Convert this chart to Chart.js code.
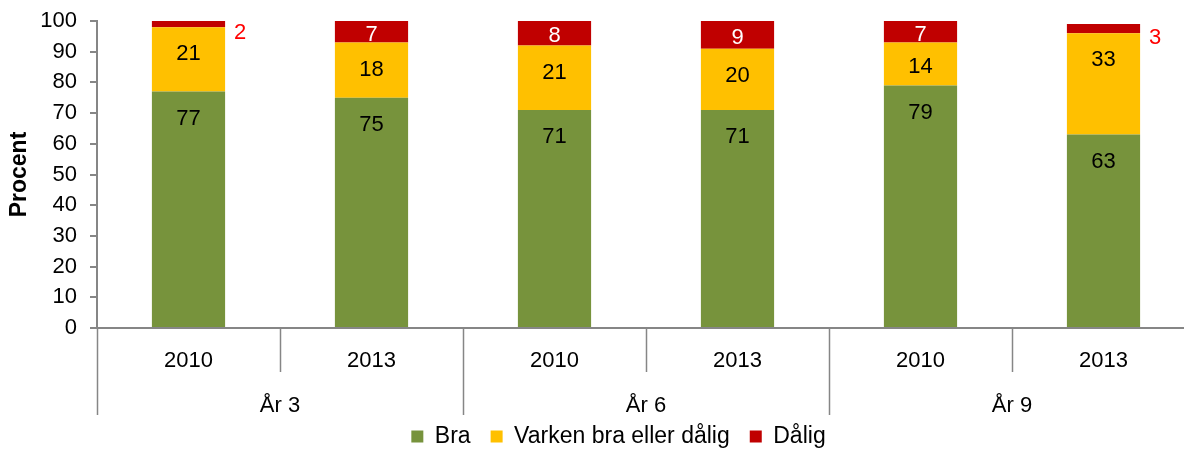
<!DOCTYPE html>
<html>
<head>
<meta charset="utf-8">
<script src="https://cdn.jsdelivr.net/npm/chart.js@4.4.1/dist/chart.umd.min.js"></script>
<style>
  html, body { margin: 0; padding: 0; background: #fff; overflow: hidden; }
  #wrap { width: 1184px; height: 452px; overflow: hidden; }
</style>
</head>
<body>
<div id="wrap"><canvas id="chart" width="1200" height="458"></canvas></div>
<script>
// årskurs / år
const years = ['2010', '2013', '2010', '2013', '2010', '2013'];
const groups = ['År 3', 'År 6', 'År 9'];
const groupSize = 2;

const bra = [77, 75, 71, 71, 79, 63];
const varken = [21, 18, 21, 20, 14, 33];
const dalig = [2, 7, 8, 9, 7, 3];

const FONT = "'Liberation Sans', Arial, sans-serif";
const AXIS_GREY = '#868686';

// siffror i staplarna
const valueLabels = {
    id: 'valueLabels',
    afterDatasetsDraw(chart) {
        const ctx = chart.ctx;
        ctx.save();
        ctx.font = '22px ' + FONT;
        ctx.textBaseline = 'middle';
        chart.data.datasets.forEach((ds, di) => {
            const meta = chart.getDatasetMeta(di);
            meta.data.forEach((bar, i) => {
                const v = ds.data[i];
                const p = bar.getProps(['x', 'y', 'base', 'width'], true);
                const top = Math.min(p.y, p.base);
                const bottom = Math.max(p.y, p.base);
                if (v < 5) {
                    // för litet, skriv bredvid
                    ctx.fillStyle = '#ff0000';
                    ctx.textAlign = 'left';
                    ctx.fillText(v, p.x + p.width / 2 + 9, (top + bottom) / 2 + 9);
                } else {
                    ctx.fillStyle = ds.labelColor;
                    ctx.textAlign = 'center';
                    const y = Math.min(top + 27, (top + bottom) / 2 + 3);
                    ctx.fillText(v, p.x, y);
                }
            });
        });
        ctx.restore();
    }
};

// grupprader och avdelare under x-axeln
const groupAxis = {
    id: 'groupAxis',
    afterLayout(chart) {
        // legenden ligger lite till höger om mitten
        chart.legend.left += 21;
        chart.legend.right += 21;
    },
    afterDraw(chart) {
        const ctx = chart.ctx;
        const x = chart.scales.x;
        const n = years.length;
        const step = x.width / n;
        ctx.save();
        ctx.strokeStyle = AXIS_GREY;
        ctx.lineWidth = 1.5;
        for (let i = 0; i <= n; i++) {
            const px = Math.round(x.left + i * step) + 0.5;
            const len = (i % groupSize === 0) ? 87 : 44;
            ctx.beginPath();
            ctx.moveTo(px, x.top);
            ctx.lineTo(px, x.top + len);
            ctx.stroke();
        }
        ctx.fillStyle = '#000';
        ctx.font = '22px ' + FONT;
        ctx.textAlign = 'center';
        ctx.textBaseline = 'middle';
        groups.forEach((g, gi) => {
            let sum = 0;
            for (let k = 0; k < groupSize; k++) {
                sum += x.getPixelForValue(gi * groupSize + k);
            }
            ctx.fillText(g, sum / groupSize, x.top + 78);
        });
        ctx.restore();
    }
};

new Chart(document.getElementById('chart').getContext('2d'), {
    type: 'bar',
    data: {
        labels: years,
        datasets: [
            { label: 'Bra', data: bra, backgroundColor: '#77933C', labelColor: '#000' },
            { label: 'Varken bra eller dålig', data: varken, backgroundColor: '#FFC000', labelColor: '#000' },
            { label: 'Dålig', data: dalig, backgroundColor: '#C00000', labelColor: '#fff' }
        ]
    },
    options: {
        responsive: false,
        animation: false,
        events: [],
        layout: { padding: { top: 21, right: 5, left: 0, bottom: 0 } },
        datasets: {
            bar: { barPercentage: 0.4, categoryPercentage: 1.0 }
        },
        scales: {
            x: {
                stacked: true,
                grid: { display: false },
                border: { display: true, color: AXIS_GREY, width: 2 },
                ticks: { color: '#000', font: { family: FONT, size: 22 }, padding: 12, maxRotation: 0 },
                afterFit: (scale) => { scale.height = 77; }
            },
            y: {
                stacked: true,
                min: 0,
                max: 100,
                grid: { drawOnChartArea: false, drawTicks: true, tickLength: 7, color: AXIS_GREY, lineWidth: 2 },
                border: { display: true, color: AXIS_GREY, width: 2 },
                ticks: { stepSize: 10, color: '#000', font: { family: FONT, size: 22 }, padding: 13 },
                title: { display: true, text: 'Procent', color: '#000', font: { family: FONT, size: 23, weight: 'bold' }, padding: { top: 6, bottom: 0 } },
                afterFit: (scale) => {
                    scale.width = 97;
                    scale.paddingTop = 14;
                    scale.paddingBottom = 14;
                }
            }
        },
        plugins: {
            legend: {
                position: 'bottom',
                labels: {
                    color: '#000',
                    font: { family: FONT, size: 23 },
                    boxWidth: 12,
                    boxHeight: 12,
                    padding: 20
                }
            },
            tooltip: { enabled: false },
            title: { display: false }
        }
    },
    plugins: [valueLabels, groupAxis]
});
</script>
</body>
</html>
